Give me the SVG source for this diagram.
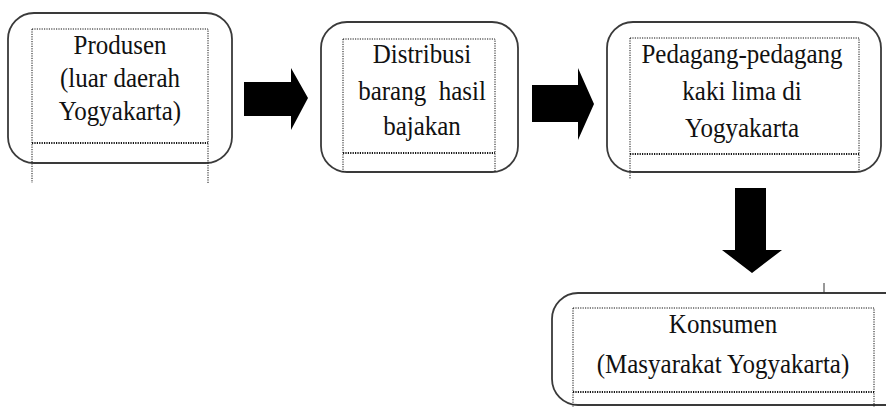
<svg xmlns="http://www.w3.org/2000/svg" width="886" height="407" viewBox="0 0 886 407">
<style>
.box{fill:#fff;stroke:#3a3a3a;stroke-width:1.8}
.dot{fill:none;stroke:#111;stroke-width:1;stroke-dasharray:1.2 1.2}
.dot2{fill:none;stroke:#111;stroke-width:2;stroke-dasharray:1.2 1.2}
.arr{fill:#000}
</style>
<rect width="886" height="407" fill="#fff"/>
<g font-family="'Liberation Serif', 'Times New Roman', serif" font-size="25" fill="#111" text-anchor="middle">
<g id="node-produsen">
<rect class="box" x="8" y="13" width="224" height="150" rx="26"/>
<path class="dot" d="M32 29 H208 V183 M32 29 V183"/>
<path class="dot2" d="M32 143 H208"/>
<text transform="translate(120 54) scale(1 1.1)">Produsen</text>
<text transform="translate(120 87) scale(1 1.1)">(luar daerah</text>
<text transform="translate(120 120) scale(1 1.1)">Yogyakarta)</text>
</g>
<g id="node-distribusi">
<rect class="box" x="321" y="22" width="197" height="150" rx="26"/>
<path class="dot" d="M343 39 H495 V172 M343 39 V172"/>
<path class="dot2" d="M343 153 H495"/>
<text transform="translate(422 63) scale(1 1.1)">Distribusi</text>
<text transform="translate(422 100) scale(1 1.1)" xml:space="preserve">barang  hasil</text>
<text transform="translate(422 135) scale(1 1.1)">bajakan</text>
</g>
<g id="node-pedagang">
<rect class="box" x="607" y="22" width="274" height="150" rx="26"/>
<path class="dot" d="M630 38 H859 V172 M630 38 V179"/>
<path class="dot2" d="M630 154 H859"/>
<text transform="translate(742 63) scale(1 1.1)">Pedagang-pedagang</text>
<text transform="translate(742 100) scale(1 1.1)">kaki lima di</text>
<text transform="translate(742 137) scale(1 1.1)">Yogyakarta</text>
</g>
<g id="node-konsumen">
<rect class="box" x="552" y="293" width="360" height="112" rx="26"/>
<path class="dot" d="M573 308 H874 V407 M573 308 V407"/>
<path class="dot2" d="M573 392 H874"/>
<line x1="824" y1="283" x2="824" y2="293" stroke="#333" stroke-width="1"/>
<text transform="translate(723 333) scale(1 1.1)">Konsumen</text>
<text transform="translate(723 373) scale(1 1.1)">(Masyarakat Yogyakarta)</text>
</g>
</g>
<g id="connectors">
<polygon class="arr" points="244,82 291,82 291,68 308,98 291,130 291,116 244,116"/>
<polygon class="arr" points="532,85 578,85 578,68 594,104 578,140 578,122 532,122"/>
<polygon class="arr" points="735,188 766,188 766,250 782,250 752,273 722,250 735,250"/>
</g>
</svg>
